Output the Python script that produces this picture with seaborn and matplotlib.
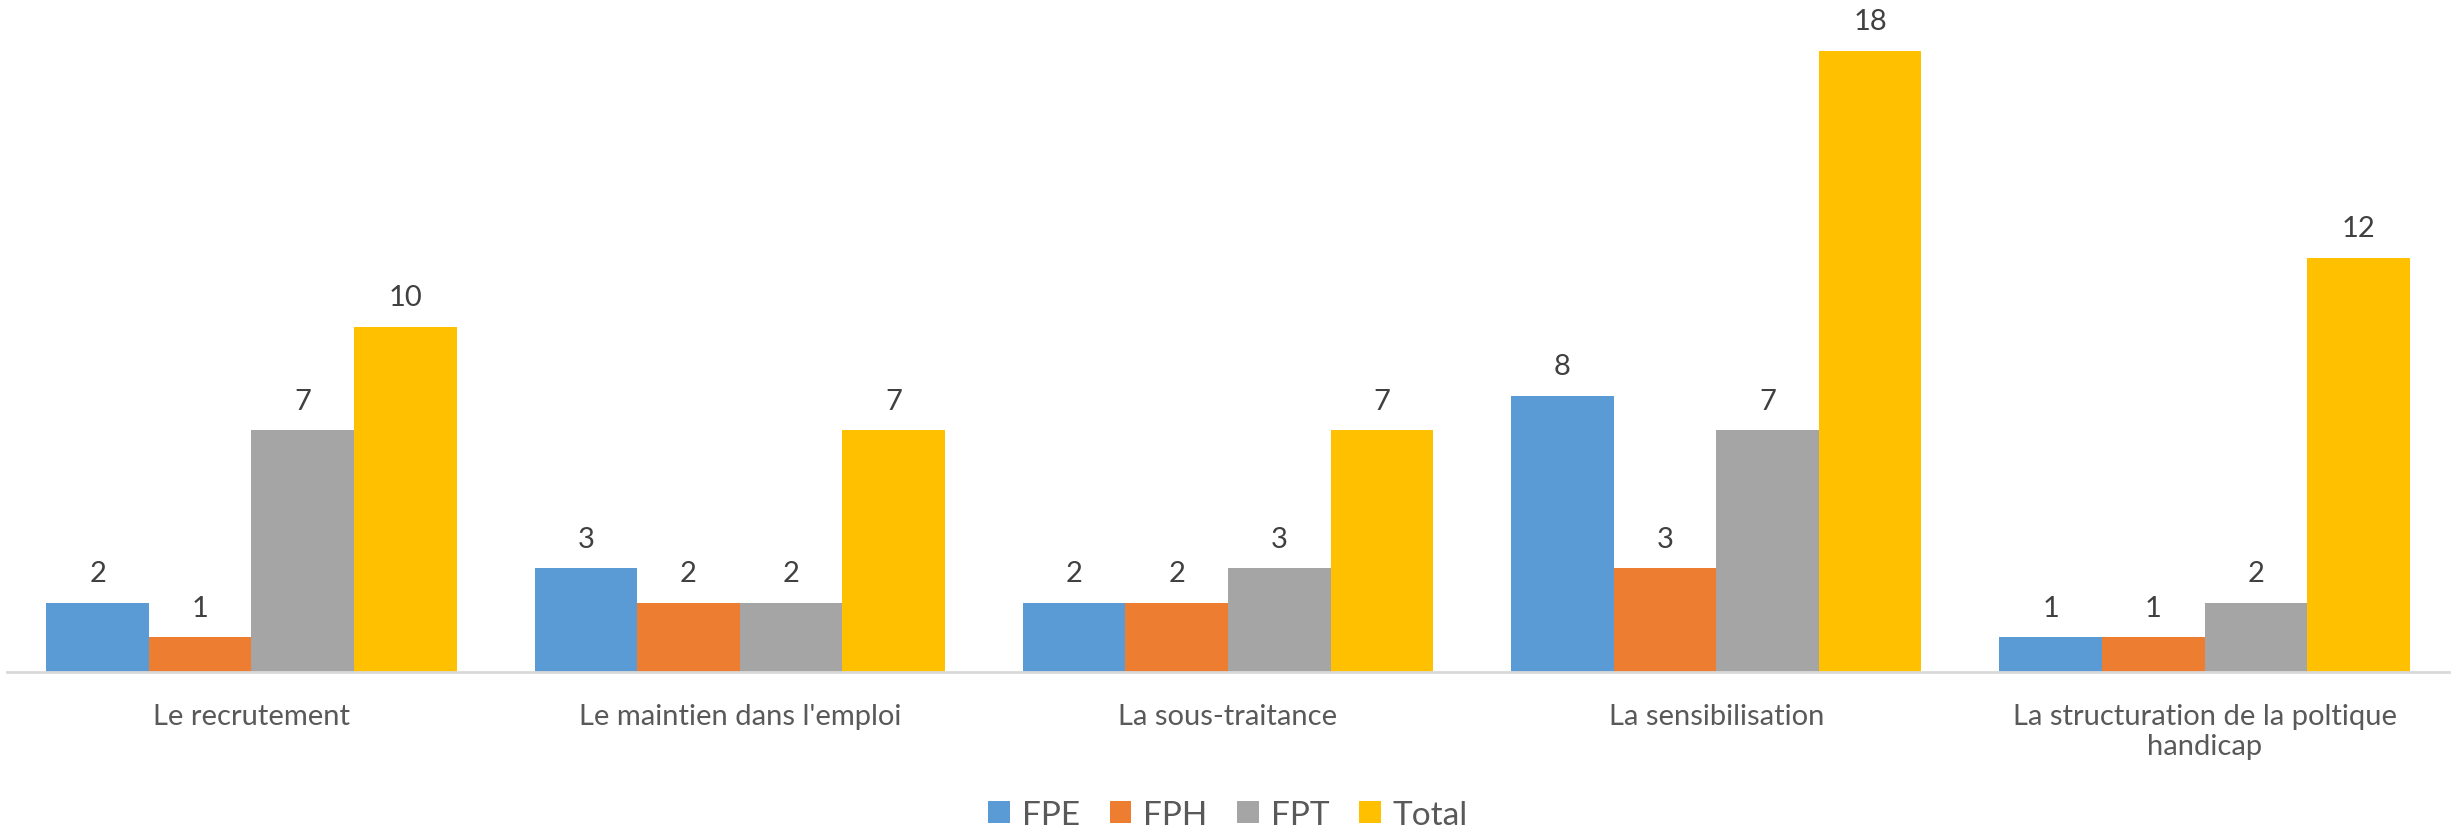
import matplotlib
matplotlib.use("Agg")
import matplotlib.pyplot as plt
import seaborn as sns
import pandas as pd

# ================================
# DATA
# ================================

categories = [
    "Le recrutement",
    "Le maintien dans l'emploi",
    "La sous-traitance",
    "La sensibilisation",
    "La structuration de la poltique\nhandicap",
]
series = ["FPE", "FPH", "FPT", "Total"]

fpe = [2, 3, 2, 8, 1]
fph = [1, 2, 2, 3, 1]
fpt = [7, 2, 3, 7, 2]
total = [10, 7, 7, 18, 12]

colors = ["#5B9BD5", "#ED7D31", "#A5A5A5", "#FFC000"]

# long-form table for seaborn
rows = []
for name, vals in zip(series, [fpe, fph, fpt, total]):
    for cat, v in zip(categories, vals):
        rows.append({"categorie": cat, "serie": name, "valeur": v})
df = pd.DataFrame(rows)

# ================================
# PLOT
# ================================

sns.set_style("white")
plt.rcParams["font.family"] = ["Lato", "DejaVu Sans"]

fig = plt.figure(figsize=(24.56, 8.37), dpi=100)
ax = fig.add_axes([0.003, 0.196, 0.994, 0.804])

sns.barplot(
    data=df, x="categorie", y="valeur", hue="serie",
    order=categories, hue_order=series, palette=colors,
    width=0.84, gap=0, saturation=1, errorbar=None,
    linewidth=0, ax=ax,
)

for cont in ax.containers:
    ax.bar_label(cont, padding=12, fontsize=21, color="#404040")

ax.set_ylim(0, 19.5)
ax.set_xlim(-0.5, len(categories) - 0.5)
ax.set_xlabel("")
ax.set_ylabel("")
ax.set_yticks([])
for side in ["left", "right", "top"]:
    ax.spines[side].set_visible(False)
ax.spines["bottom"].set_color("#D9D9D9")
ax.spines["bottom"].set_linewidth(2)
ax.tick_params(axis="x", length=0, pad=22, labelsize=21, labelcolor="#595959")

handles, labels = ax.get_legend_handles_labels()
ax.legend_.remove()
fig.legend(
    handles, labels, loc="center", bbox_to_anchor=(0.5, 0.025),
    ncol=4, frameon=False, fontsize=24, labelcolor="#595959",
    handlelength=0.65, handleheight=0.65, handletextpad=0.35, columnspacing=0.9,
)

fig.savefig("out.png", dpi=100)
